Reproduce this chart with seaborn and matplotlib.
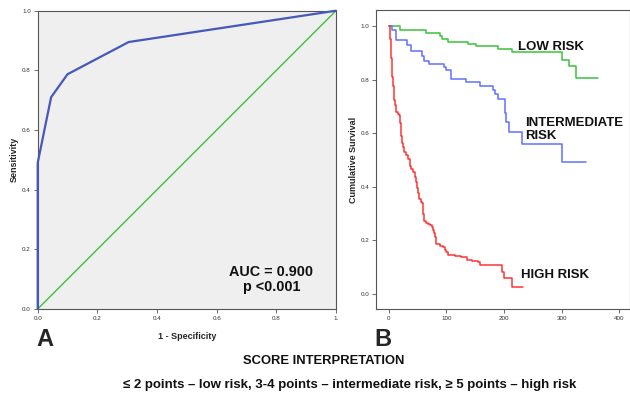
import matplotlib
matplotlib.use("Agg")
import matplotlib.pyplot as plt
import seaborn as sns
import pandas as pd

# ROC data
roc_fpr = [0.0, 0.0, 0.045, 0.10, 0.305, 1.0]
roc_tpr = [0.0, 0.49, 0.71, 0.787, 0.895, 1.0]
ref_line = [0.0, 1.0]

# Kaplan-Meier data
low_t = [0, 20, 64, 88, 93, 103, 138, 152, 190, 213, 301, 313, 325, 363]
low_s = [1.0, 0.985, 0.973, 0.963, 0.951, 0.941, 0.933, 0.925, 0.915, 0.903, 0.873, 0.850, 0.805, 0.805]

int_t = [0, 6, 13, 32, 38, 57, 61, 69, 96, 100, 107, 134, 158, 180, 184, 189, 201, 204, 208, 231, 301, 343]
int_s = [1.0, 0.985, 0.948, 0.930, 0.908, 0.888, 0.869, 0.857, 0.848, 0.836, 0.802, 0.791, 0.776, 0.761,
         0.745, 0.728, 0.674, 0.643, 0.606, 0.560, 0.491, 0.491]

high_t = [0, 1, 2, 3, 4, 5, 6, 7, 8, 9, 11, 13, 15, 17, 19, 21, 23, 25, 27, 30, 33, 36, 39, 42, 45, 47, 49,
          51, 53, 56, 58, 60, 61, 65, 68, 71, 74, 76, 78, 80, 82, 88, 94, 97, 100, 103, 115, 126, 136, 145,
          155, 158, 196, 200, 213, 233]
high_s = [1.0, 0.975, 0.95, 0.91, 0.88, 0.85, 0.81, 0.775, 0.745, 0.725, 0.705, 0.68, 0.672, 0.668, 0.64,
          0.59, 0.565, 0.548, 0.53, 0.518, 0.505, 0.478, 0.468, 0.456, 0.435, 0.418, 0.395, 0.376, 0.355,
          0.342, 0.338, 0.298, 0.272, 0.266, 0.262, 0.257, 0.25, 0.238, 0.226, 0.214, 0.185, 0.18, 0.176,
          0.164, 0.155, 0.146, 0.142, 0.137, 0.127, 0.124, 0.12, 0.107, 0.083, 0.058, 0.027, 0.027]

roc_ticks = [0.0, 0.2, 0.4, 0.6, 0.8, 1.0]
roc_xlabels = ["0.0", "0.2", "0.4", "0.6", "0.8", "1."]
km_xticks = [0, 100, 200, 300, 400]
km_yticks = [0.0, 0.2, 0.4, 0.6, 0.8, 1.0]

sns.set_theme(style="white")
plt.rcParams['font.family'] = ['Liberation Sans', 'DejaVu Sans']

fig = plt.figure(figsize=(6.3, 3.94), dpi=100)
W, H = 630, 394

def add_axes(x0, y0, x1, y1):
    return fig.add_axes([x0 / W, 1 - y1 / H, (x1 - x0) / W, (y1 - y0) / H])

axA = add_axes(37.7, 10.7, 336, 309)
axB = add_axes(376, 10, 629.5, 309)

# Panel A: ROC
axA.set_facecolor("#efefef")
sns.lineplot(x=ref_line, y=ref_line, ax=axA, color="#3cc23c", lw=1.0, estimator=None, sort=False)
sns.lineplot(x=roc_fpr, y=roc_tpr, ax=axA, color="#4558bb", lw=1.6, estimator=None, sort=False,
             clip_on=False, zorder=5)
axA.set_xlim(0, 1)
axA.set_ylim(0, 1)
axA.set_xticks(roc_ticks)
axA.set_yticks(roc_ticks)
axA.set_xticklabels(roc_xlabels)
axA.set_yticklabels([f"{v:.1f}" for v in roc_ticks])
axA.set_xlabel("1 - Specificity", fontsize=6.5, fontweight="bold", labelpad=8)
axA.set_ylabel("Sensitivity", fontsize=6.5, fontweight="bold", labelpad=2)
axA.text(0.783, 0.1, "AUC = 0.900\np <0.001", transform=axA.transAxes, ha="center", va="center",
         fontsize=10.4, fontweight="bold", linespacing=1.1, color="#111111")

# Panel B: KM
palette = {"LOW": "#3cc23c", "INT": "#6070ff", "HIGH": "#ff3535"}
sns.lineplot(x=low_t, y=low_s, ax=axB, color=palette["LOW"], lw=1.1, drawstyle="steps-post",
             estimator=None, sort=False)
sns.lineplot(x=int_t, y=int_s, ax=axB, color=palette["INT"], lw=1.1, drawstyle="steps-post",
             estimator=None, sort=False)
sns.lineplot(x=high_t, y=high_s, ax=axB, color=palette["HIGH"], lw=1.1, drawstyle="steps-post",
             estimator=None, sort=False)
axB.set_xlim(-22.5, 418)
axB.set_ylim(-0.056, 1.06)
axB.set_xticks(km_xticks)
axB.set_yticks(km_yticks)
axB.set_xticklabels([str(v) for v in km_xticks])
axB.set_yticklabels([f"{v:.1f}" for v in km_yticks])
axB.set_ylabel("Cumulative Survival", fontsize=6.5, fontweight="bold", labelpad=2)
axB.set_xlabel("")
axB.text(225, 0.922, "LOW RISK", fontsize=9.5, fontweight="bold", va="center", color="#111111")
axB.text(237, 0.614, "INTERMEDIATE\nRISK", fontsize=9.5, fontweight="bold", va="center",
         linespacing=1.1, color="#111111")
axB.text(230, 0.07, "HIGH RISK", fontsize=9.5, fontweight="bold", va="center", color="#111111")

for ax in (axA, axB):
    for sp in ax.spines.values():
        sp.set_color("#555555")
        sp.set_linewidth(0.8)
    ax.tick_params(axis="both", which="both", direction="out", length=3, width=0.6,
                   colors="#555555", labelsize=4.5, labelcolor="#333333", pad=2,
                   bottom=True, left=True)

fig.text(45 / W, 1 - 339 / H, "A", fontsize=17, fontweight="bold", ha="center", va="center")
fig.text(383 / W, 1 - 339 / H, "B", fontsize=17, fontweight="bold", ha="center", va="center")
fig.text(324 / W, 1 - 361 / H, "SCORE INTERPRETATION", fontsize=9.4, fontweight="bold",
         ha="center", va="center", color="#111111")
fig.text(349.5 / W, 1 - 385 / H,
         "\u2264 2 points \u2013 low risk, 3-4 points \u2013 intermediate risk, \u2265 5 points \u2013 high risk",
         fontsize=9.5, fontweight="bold", ha="center", va="center", color="#111111")

fig.savefig("out.png", dpi=100)
